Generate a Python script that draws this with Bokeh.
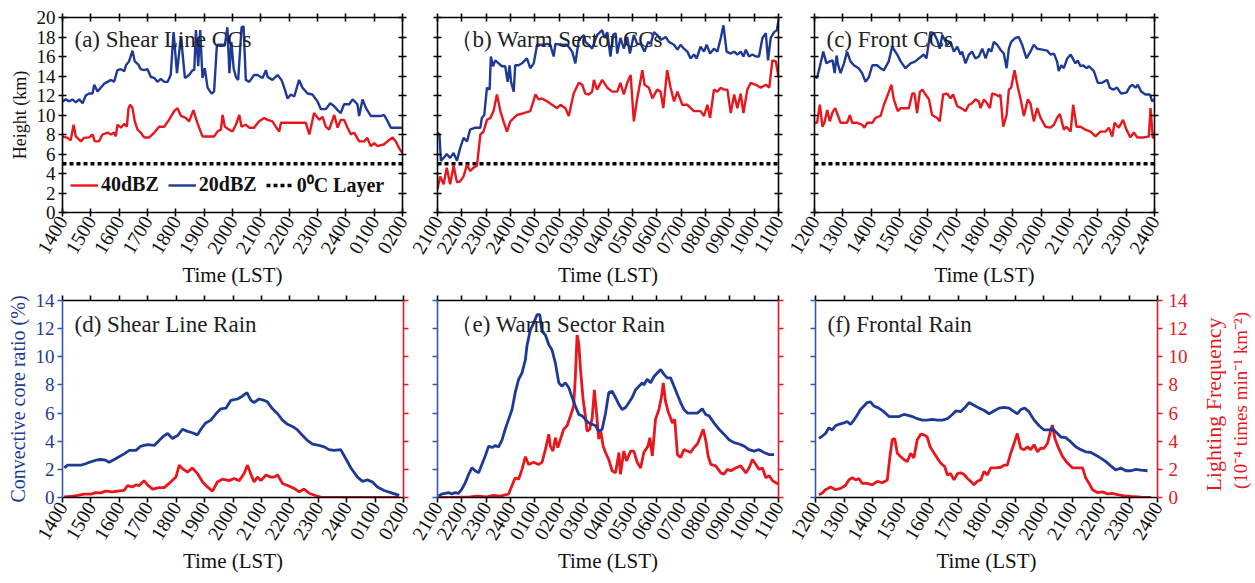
import math
from bokeh.plotting import figure
from bokeh.models import (LinearAxis, Range1d, FixedTicker, Label, Legend, LegendItem,
                          CustomJSTickFormatter)
from bokeh.layouts import column, row
from bokeh.embed import file_html
from bokeh.resources import INLINE

FONT = "Liberation Serif"
RED = "#e8161d"
BLUE = "#1e3a96"
AX_BLUE = "#3556b0"

# ---------------- tick labels (LST) ----------------
labels_a = ["1400", "1500", "1600", "1700", "1800", "1900", "2000", "2100", "2200", "2300", "2400", "0100", "0200"]
labels_b = ["2100", "2200", "2300", "2400", "0100", "0200", "0300", "0400", "0500", "0600", "0700", "0800", "0900", "1000", "1100"]
labels_c = ["1200", "1300", "1400", "1500", "1600", "1700", "1800", "1900", "2000", "2100", "2200", "2300", "2400"]

freezing_level = 5.0  # 0 C layer height (km)

# ---------------- (a) Shear line CCs : hours since 1400 ----------------
a20_t = [0, 0.12, 0.24, 0.35, 0.47, 0.59, 0.71, 0.82, 0.94, 1.06, 1.12, 1.24, 1.35, 1.47, 1.59, 1.71, 1.82, 1.94, 2.06, 2.18,
         2.24, 2.35, 2.47, 2.55, 2.67, 2.76, 2.88, 3.0, 3.12, 3.24, 3.35, 3.47, 3.59, 3.71, 3.82, 3.92, 4.04, 4.18, 4.32, 4.47,
         4.59, 4.65, 4.71, 4.79, 4.86, 4.94, 5.02, 5.12, 5.26, 5.35, 5.45, 5.59, 5.73, 5.82, 5.89, 5.96, 6.04, 6.12, 6.2, 6.32,
         6.39, 6.47, 6.59, 6.76, 6.88, 7.06, 7.18, 7.24, 7.41, 7.59, 7.73, 7.85, 7.94, 8.06, 8.18, 8.35, 8.47, 8.65, 8.82, 9.0,
         9.12, 9.29, 9.45, 9.59, 9.71, 9.82, 9.94, 10.12, 10.24, 10.41, 10.47, 10.59, 10.71, 10.88, 11.06, 11.24, 11.35, 11.47,
         11.59, 11.71, 12.0]
a20_h = [11.4, 11.6, 11.4, 11.6, 11.3, 11.6, 11.2, 12.0, 12.2, 12.2, 13.1, 12.4, 12.8, 13.2, 13.4, 13.6, 13.4, 14.6, 14.7, 14.5,
         15.1, 15.5, 16.6, 15.5, 15.2, 14.7, 14.6, 14.7, 13.9, 13.8, 13.4, 13.7, 13.4, 13.4, 14.1, 18.5, 14.3, 18.1, 13.8, 14.1,
         14.6, 14.6, 18.7, 15.0, 18.7, 13.8, 14.8, 12.8, 12.2, 12.4, 17.2, 17.2, 17.2, 19.0, 14.3, 17.5, 14.8, 13.9, 13.6, 19.0,
         19.1, 13.6, 13.4, 14.1, 14.1, 13.8, 14.6, 13.9, 13.6, 14.1, 13.6, 12.6, 11.7, 12.1, 11.9, 13.6, 12.8, 12.2, 12.1, 11.4,
         10.6, 10.6, 11.2, 10.9, 10.5, 10.2, 11.1, 11.1, 11.6, 11.1, 9.9, 11.6, 10.7, 9.9, 9.9, 9.9, 10.0, 9.4,
         8.7, 8.7, 8.7]
a40_t = [0, 0.18, 0.29, 0.39, 0.47, 0.65, 0.76, 0.94, 1.06, 1.14, 1.29, 1.41, 1.59, 1.71, 1.82, 1.88, 1.94, 2.06, 2.18, 2.27,
         2.33, 2.39, 2.47, 2.55, 2.65, 2.76, 2.88, 3.06, 3.24, 3.41, 3.59, 3.76, 3.94, 4.06, 4.18, 4.35, 4.47, 4.62, 4.76, 4.94,
         5.12, 5.35, 5.47, 5.59, 5.65, 5.73, 5.88, 6.0, 6.12, 6.24, 6.32, 6.47, 6.59, 6.76, 6.94, 7.12, 7.24, 7.41, 7.53, 7.65,
         7.71, 7.94, 8.18, 8.59, 8.71, 8.88, 9.06, 9.18, 9.29, 9.41, 9.59, 9.71, 9.82, 9.94, 10.06, 10.18, 10.29, 10.47, 10.65,
         10.76, 10.88, 11.0, 11.12, 11.35, 11.47, 11.65, 11.76, 11.88, 12.0]
a40_h = [7.8, 7.65, 7.4, 9.0, 7.8, 7.3, 7.65, 7.7, 8.0, 7.3, 7.3, 8.0, 8.2, 8.0, 8.2, 7.8, 9.0, 8.7, 9.1, 8.8,
         10.7, 11.05, 10.7, 9.35, 8.5, 8.2, 7.7, 7.7, 8.2, 8.8, 8.8, 9.5, 10.4, 10.7, 9.9, 9.7, 9.35, 10.5, 9.2, 7.8,
         7.8, 7.8, 8.3, 8.5, 10.0, 8.8, 8.5, 8.3, 9.0, 10.0, 8.8, 9.0, 8.7, 8.7, 9.35, 9.7, 9.5, 9.35, 8.8, 8.3,
         9.2, 9.2, 9.2, 9.2, 8.0, 10.2, 9.5, 9.8, 8.8, 8.5, 10.0, 8.7, 9.5, 9.5, 8.7, 8.0, 8.2, 7.3, 7.3,
         7.65, 6.8, 7.1, 6.8, 7.0, 7.3, 7.7, 7.3, 6.6, 6.1]

# ---------------- (b) Warm sector CCs : hours since 2100 ----------------
b20_t = [0, 0.08, 0.14, 0.25, 0.38, 0.52, 0.66, 0.8, 0.93, 1.07, 1.21, 1.34, 1.55, 1.76, 1.82, 1.92, 2.03, 2.14, 2.19, 2.28,
         2.37, 2.51, 2.65, 2.78, 2.88, 2.96, 3.02, 3.13, 3.19, 3.33, 3.47, 3.67, 3.81, 3.95, 4.09, 4.22, 4.36, 4.5, 4.63, 4.77,
         4.84, 5.05, 5.32, 5.53, 5.66, 5.8, 6.01, 6.07, 6.21, 6.35, 6.55, 6.76, 6.86, 6.97, 7.1, 7.21, 7.31, 7.38, 7.51, 7.65,
         7.79, 7.9, 8.06, 8.2, 8.34, 8.5, 8.65, 8.75, 8.89, 9.02, 9.16, 9.37, 9.5, 9.71, 9.85, 9.98, 10.12, 10.26, 10.39, 10.53,
         10.64, 10.8, 10.94, 11.05, 11.19, 11.35, 11.49, 11.63, 11.74, 11.87, 12.04, 12.18, 12.31, 12.45, 12.56, 12.66, 12.79,
         12.93, 13.07, 13.2, 13.34, 13.48, 13.57, 13.68, 13.82, 13.93, 14.0]
b20_h = [8.2, 8.0, 5.3, 5.6, 6.0, 5.6, 6.1, 5.3, 6.6, 7.65, 7.3, 8.5, 8.7, 8.7, 9.7, 10.0, 12.8, 12.6, 16.0, 15.0,
         15.6, 15.3, 15.0, 15.0, 13.4, 15.1, 13.4, 12.4, 15.1, 15.1, 15.3, 15.8, 14.8, 15.3, 17.2, 17.2, 17.2, 17.3, 17.2, 16.0,
         17.3, 17.2, 17.2, 16.5, 15.3, 17.7, 18.2, 17.5, 17.2, 16.8, 18.2, 18.7, 17.9, 18.5, 16.0, 18.2, 18.4, 16.3, 17.9, 16.8,
         18.0, 16.3, 18.2, 17.3, 17.3, 16.5, 17.5, 17.3, 18.5, 18.2, 17.7, 18.0, 17.5, 17.2, 16.7, 17.2, 16.8, 16.5, 15.8, 16.2,
         15.8, 17.0, 16.5, 17.2, 16.3, 16.8, 16.5, 17.9, 19.2, 16.5, 16.3, 16.5, 16.2, 16.5, 16.0, 16.7, 16.0,
         16.2, 16.0, 16.0, 17.9, 18.4, 15.6, 17.9, 18.5, 18.7, 19.7]
b40_t = [0, 0.11, 0.25, 0.38, 0.52, 0.66, 0.8, 0.93, 1.07, 1.21, 1.34, 1.48, 1.62, 1.76, 1.89, 2.03, 2.17, 2.3, 2.44, 2.58,
         2.71, 2.85, 2.99, 3.26, 3.54, 3.81, 4.02, 4.15, 4.29, 4.5, 4.7, 4.91, 5.05, 5.25, 5.39, 5.59, 5.8, 5.94, 6.07, 6.21,
         6.35, 6.42, 6.55, 6.76, 6.97, 7.17, 7.38, 7.51, 7.65, 7.79, 7.93, 8.06, 8.2, 8.41, 8.5, 8.68, 8.82, 9.02, 9.16, 9.27,
         9.43, 9.57, 9.71, 9.85, 10.05, 10.26, 10.53, 10.8, 10.94, 11.08, 11.19, 11.35, 11.49, 11.63, 11.76, 11.9, 12.04, 12.18,
         12.31, 12.45, 12.56, 12.72, 12.86, 13.07, 13.27, 13.48, 13.62, 13.75, 13.89, 14.0]
b40_h = [2.4, 3.7, 2.9, 4.6, 2.9, 4.8, 3.1, 3.2, 3.7, 4.9, 4.25, 4.6, 4.8, 8.0, 8.3, 9.5, 9.7, 10.4, 12.1, 10.4,
         9.35, 8.3, 9.35, 10.0, 10.2, 10.4, 12.1, 11.6, 11.7, 11.4, 11.05, 10.7, 11.05, 10.7, 9.9, 12.2, 13.3, 13.1, 12.2, 12.1,
         12.4, 13.6, 12.6, 13.6, 12.8, 12.4, 12.4, 13.3, 12.1, 13.3, 14.1, 9.35, 11.7, 14.6, 13.1, 12.8, 11.7, 12.6, 12.4, 10.7,
         14.6, 12.8, 11.4, 12.4, 11.05, 11.05, 10.4, 10.4, 9.9, 11.05, 9.7, 12.6, 12.4, 12.8, 12.6, 12.6, 10.2, 12.1,
         10.7, 12.2, 10.2, 12.6, 13.3, 13.1, 12.8, 13.1, 12.8, 15.6, 15.5, 13.9]

# ---------------- (c) Front CCs : hours since 1200 ----------------
c20_t = [0, 0.09, 0.19, 0.31, 0.42, 0.54, 0.64, 0.71, 0.78, 0.82, 0.92, 1.04, 1.15, 1.27, 1.39, 1.56, 1.68, 1.8, 1.92, 2.04,
         2.21, 2.33, 2.45, 2.62, 2.74, 2.92, 3.04, 3.21, 3.39, 3.56, 3.68, 3.86, 3.95, 4.09, 4.21, 4.33, 4.42, 4.51, 4.68, 4.8,
         4.92, 5.04, 5.15, 5.21, 5.33, 5.45, 5.56, 5.68, 5.8, 5.92, 6.04, 6.15, 6.24, 6.33, 6.45, 6.56, 6.68, 6.78, 6.86, 6.94,
         7.09, 7.21, 7.33, 7.48, 7.62, 7.74, 7.86, 8.04, 8.21, 8.33, 8.45, 8.56, 8.62, 8.71, 8.8, 8.92, 9.04, 9.15, 9.21, 9.29,
         9.39, 9.48, 9.6, 9.69, 9.86, 10.0, 10.15, 10.33, 10.42, 10.54, 10.68, 10.82, 11.01, 11.13, 11.22, 11.33, 11.41, 11.53,
         11.68, 11.84, 11.92, 12.0]
c20_h = [13.95, 13.8, 15.0, 16.5, 15.3, 15.5, 15.6, 14.3, 16.1, 15.3, 14.3, 15.3, 16.5, 15.5, 15.1, 14.8, 14.3, 13.4, 13.9, 15.1,
         15.1, 14.8, 14.6, 15.5, 17.0, 16.2, 15.5, 14.8, 15.3, 15.5, 15.8, 16.2, 15.8, 18.5, 18.4, 17.7, 16.8, 18.2, 17.2, 17.5,
         16.5, 17.0, 16.2, 16.5, 15.3, 16.2, 16.5, 15.8, 16.0, 16.8, 15.8, 16.8, 16.5, 17.5, 17.2, 16.7, 16.3, 14.8, 16.8, 17.5,
         17.9, 18.0, 17.2, 15.8, 16.5, 17.2, 16.8, 16.7, 16.6, 16.2, 16.3, 15.5, 14.5, 15.1, 14.8, 15.8, 16.2, 15.6, 15.3, 15.6,
         15.0, 15.1, 14.8, 15.0, 14.5, 13.3, 13.3, 13.6, 12.8, 12.6, 12.8, 12.2, 12.3, 12.9, 13.1, 12.8, 13.1, 12.4,
         12.1, 12.1, 11.4, 11.6]
c40_t = [0, 0.09, 0.19, 0.28, 0.35, 0.45, 0.54, 0.64, 0.73, 0.82, 0.92, 1.04, 1.15, 1.25, 1.33, 1.51, 1.68, 1.76, 1.86, 2.04,
         2.15, 2.33, 2.45, 2.59, 2.71, 2.8, 2.94, 3.04, 3.21, 3.33, 3.45, 3.53, 3.62, 3.72, 3.81, 3.92, 4.04, 4.15, 4.33, 4.42,
         4.54, 4.68, 4.8, 4.89, 5.04, 5.18, 5.33, 5.45, 5.56, 5.68, 5.8, 5.86, 5.98, 6.09, 6.19, 6.27, 6.39, 6.51, 6.56, 6.66,
         6.78, 6.86, 6.94, 7.06, 7.18, 7.27, 7.39, 7.53, 7.62, 7.74, 7.86, 7.98, 8.15, 8.33, 8.45, 8.56, 8.66, 8.8, 8.89, 9.04,
         9.13, 9.25, 9.39, 9.56, 9.74, 9.92, 10.09, 10.27, 10.39, 10.51, 10.59, 10.74, 10.89, 11.01, 11.15, 11.27, 11.39, 11.62,
         11.8, 11.86, 11.94, 12.0]
c40_h = [9.2, 9.2, 11.05, 8.8, 9.2, 10.5, 9.35, 10.3, 10.7, 10.0, 9.2, 9.2, 9.2, 10.0, 9.2, 9.2, 9.0, 8.7, 9.2, 9.2,
         9.7, 9.9, 11.05, 12.1, 13.1, 11.6, 10.4, 10.7, 10.7, 10.7, 12.2, 12.2, 10.2, 12.4, 12.6, 12.1, 11.6, 10.0, 9.7, 9.35,
         12.1, 12.2, 11.7, 12.1, 10.9, 10.7, 10.4, 11.05, 11.2, 11.6, 11.4, 10.7, 11.6, 11.2, 10.7, 12.2, 12.1, 11.9, 12.1, 8.8,
         10.0, 12.6, 12.8, 14.6, 12.8, 11.7, 9.9, 11.6, 11.2, 9.35, 10.7, 9.7, 8.8, 8.7, 9.0, 9.7, 10.1, 8.5, 8.8, 8.3,
         11.05, 8.8, 8.8, 8.5, 8.3, 7.8, 8.3, 8.3, 8.7, 7.8, 9.2, 8.7, 9.5, 8.5, 7.7, 8.2, 7.7, 7.7,
         7.8, 10.7, 7.65, 7.7]

# ---------------- (d) Shear line rain ----------------
d_cc_t = [0.06, 0.18, 0.35, 0.65, 0.82, 0.94, 1.17, 1.35, 1.52, 1.64, 1.82, 1.99, 2.17, 2.35, 2.58, 2.76, 2.99, 3.23, 3.4, 3.58,
          3.7, 3.87, 4.05, 4.22, 4.4, 4.57, 4.75, 4.87, 5.04, 5.22, 5.4, 5.57, 5.75, 5.92, 6.16, 6.33, 6.49, 6.63, 6.74, 6.92,
          7.1, 7.21, 7.39, 7.57, 7.74, 7.92, 8.09, 8.27, 8.45, 8.62, 8.8, 9.03, 9.21, 9.38, 9.56, 9.79, 9.97, 10.15, 10.38, 10.56,
          10.73, 10.91, 11.08, 11.32, 11.55, 11.85]
d_cc_v = [2.1, 2.3, 2.3, 2.3, 2.4, 2.5, 2.65, 2.7, 2.65, 2.5, 2.7, 2.9, 3.1, 3.35, 3.35, 3.65, 3.75, 3.7, 4.05, 4.4,
          4.55, 4.2, 4.4, 4.85, 4.7, 4.6, 4.45, 4.85, 5.3, 5.5, 5.95, 6.3, 6.35, 6.9, 7.0, 7.2, 7.45, 6.9, 6.75, 7.0,
          6.9, 6.8, 6.3, 5.95, 5.5, 5.2, 5.05, 4.8, 4.4, 4.05, 3.8, 3.7, 3.6, 3.4, 3.35, 3.4, 2.75, 2.1, 1.45, 1.15,
          1.25, 1.1, 0.75, 0.5, 0.35, 0.15]
d_lf_t = [0.06, 0.29, 0.53, 0.76, 1.0, 1.17, 1.35, 1.52, 1.76, 1.94, 2.17, 2.29, 2.46, 2.58, 2.7, 2.87, 2.99, 3.17, 3.4, 3.58,
          3.75, 3.99, 4.11, 4.22, 4.4, 4.57, 4.75, 4.93, 5.1, 5.28, 5.45, 5.63, 5.87, 6.04, 6.22, 6.39, 6.51, 6.63, 6.74, 6.86,
          6.98, 7.16, 7.33, 7.45, 7.57, 7.74, 7.92, 8.15, 8.33, 8.5, 8.68, 8.92, 9.09, 9.56, 11.85]
d_lf_v = [0.05, 0.07, 0.15, 0.24, 0.24, 0.35, 0.33, 0.45, 0.4, 0.45, 0.5, 0.85, 0.75, 0.9, 0.85, 1.2, 0.9, 0.6, 0.7, 0.7,
          1.0, 1.45, 2.3, 2.05, 1.8, 2.1, 1.7, 1.1, 0.75, 0.45, 1.1, 1.3, 1.2, 1.35, 1.2, 1.7, 2.3, 1.65, 1.1, 1.45,
          1.2, 1.6, 1.45, 1.45, 1.6, 1.0, 0.85, 0.65, 0.4, 0.6, 0.3, 0.12, 0.02, 0.0, 0.0]

# ---------------- (e) Warm sector rain ----------------
e_cc_t = [0.04, 0.18, 0.32, 0.45, 0.59, 0.73, 0.86, 1.0, 1.14, 1.28, 1.41, 1.55, 1.69, 1.82, 1.96, 2.1, 2.24, 2.37, 2.51, 2.65,
          2.78, 2.92, 3.06, 3.19, 3.33, 3.47, 3.61, 3.67, 3.81, 3.95, 4.09, 4.2, 4.29, 4.43, 4.57, 4.7, 4.84, 4.98, 5.11, 5.25,
          5.39, 5.53, 5.66, 5.8, 5.94, 6.07, 6.21, 6.35, 6.49, 6.62, 6.76, 6.9, 7.03, 7.17, 7.31, 7.45, 7.58, 7.72, 7.86, 7.99,
          8.13, 8.27, 8.41, 8.47, 8.61, 8.75, 8.89, 9.02, 9.16, 9.3, 9.43, 9.57, 9.71, 9.85, 9.98, 10.12, 10.26, 10.46, 10.67,
          10.87, 11.01, 11.15, 11.35, 11.56, 11.76, 11.97, 12.18, 12.38, 12.59, 12.79, 13.0, 13.2, 13.41, 13.62, 13.82]
e_cc_v = [0.1, 0.25, 0.3, 0.35, 0.25, 0.35, 0.3, 0.6, 1.05, 1.65, 2.1, 1.9, 1.75, 2.35, 2.95, 3.65, 3.55, 3.7, 3.6, 4.1,
          4.85, 5.55, 6.25, 7.45, 8.4, 8.85, 9.8, 10.75, 11.9, 12.4, 13.0, 13.0, 11.8, 11.55, 10.85, 10.5, 9.55, 8.15, 7.9, 8.15,
          7.8, 7.1, 6.5, 5.9, 5.8, 5.55, 5.3, 5.2, 5.1, 4.7, 4.85, 6.0, 7.45, 7.55, 7.1, 6.6, 6.25, 6.4, 6.75, 7.1,
          7.65, 7.9, 8.15, 8.0, 8.4, 8.15, 8.6, 8.85, 9.1, 8.75, 8.5, 8.5, 7.9, 7.3, 6.75, 6.25, 6.0, 6.0, 6.0,
          6.3, 5.9, 5.8, 5.3, 4.85, 4.5, 4.1, 3.9, 3.8, 3.65, 3.4, 3.3, 3.4, 3.2, 3.05, 3.05]
e_lf_t = [0.04, 0.66, 1.34, 1.62, 2.03, 2.3, 2.58, 2.92, 3.06, 3.19, 3.33, 3.47, 3.61, 3.74, 3.95, 4.15, 4.29, 4.43, 4.57, 4.63,
          4.74, 4.84, 4.94, 5.05, 5.18, 5.32, 5.46, 5.59, 5.66, 5.73, 5.8, 5.87, 5.98, 6.07, 6.14, 6.25, 6.35, 6.44, 6.53, 6.62,
          6.69, 6.8, 6.9, 7.03, 7.17, 7.31, 7.45, 7.51, 7.65, 7.76, 7.93, 8.06, 8.2, 8.34, 8.47, 8.64, 8.72, 8.82, 8.95, 9.09,
          9.19, 9.27, 9.36, 9.46, 9.57, 9.64, 9.74, 9.85, 9.98, 10.12, 10.26, 10.39, 10.53, 10.67, 10.8, 10.91, 11.02, 11.11,
          11.22, 11.42, 11.63, 11.76, 11.9, 12.04, 12.24, 12.45, 12.66, 12.79, 12.93, 13.07, 13.2, 13.34, 13.48, 13.62, 13.75,
          13.89, 14.0]
e_lf_v = [0.0, 0.0, 0.05, 0.1, 0.05, 0.15, 0.1, 0.25, 0.85, 1.4, 1.3, 2.0, 2.9, 2.35, 2.5, 2.35, 2.5, 3.4, 4.5, 3.65,
          3.3, 4.25, 3.55, 4.15, 4.85, 5.1, 5.8, 6.5, 8.6, 11.55, 10.95, 9.1, 6.95, 5.8, 4.7, 4.85, 5.65, 7.65, 6.0, 4.15,
          4.85, 3.65, 3.2, 2.7, 1.9, 1.75, 3.2, 1.65, 3.3, 2.6, 3.3, 3.3, 2.5, 2.1, 3.2, 3.65, 4.25, 2.95, 5.55, 6.25,
          7.1, 8.15, 6.85, 6.15, 5.65, 5.3, 5.55, 3.05, 2.85, 3.4, 3.3, 3.2, 3.55, 3.8, 4.35, 4.85, 4.0, 2.95,
          2.35, 2.25, 1.75, 1.65, 2.0, 1.9, 2.1, 2.25, 1.75, 2.1, 2.7, 2.35, 2.0, 2.1, 1.4, 1.55, 1.2,
          1.05, 0.95]

# ---------------- (f) Frontal rain ----------------
f_cc_t = [0.12, 0.23, 0.35, 0.47, 0.59, 0.7, 0.82, 1.0, 1.11, 1.23, 1.35, 1.46, 1.58, 1.7, 1.81, 1.93, 2.05, 2.22, 2.4, 2.58,
          2.75, 2.93, 3.1, 3.22, 3.4, 3.57, 3.75, 3.92, 4.1, 4.27, 4.45, 4.63, 4.8, 4.92, 5.09, 5.27, 5.39, 5.56, 5.74, 5.91,
          6.09, 6.26, 6.44, 6.62, 6.79, 6.97, 7.08, 7.2, 7.34, 7.49, 7.67, 7.85, 8.02, 8.2, 8.31, 8.49, 8.61, 8.78, 8.96, 9.13,
          9.31, 9.48, 9.66, 9.84, 10.01, 10.19, 10.36, 10.54, 10.71, 10.89, 11.07, 11.24, 11.42, 11.65]
f_cc_v = [4.2, 4.35, 4.55, 4.95, 4.8, 5.1, 5.2, 5.3, 5.4, 5.2, 5.5, 5.85, 6.25, 6.5, 6.75, 6.8, 6.5, 6.35, 6.1, 5.75,
          5.75, 5.75, 5.9, 5.85, 5.75, 5.6, 5.5, 5.5, 5.55, 5.5, 5.5, 5.6, 5.9, 6.15, 6.1, 6.45, 6.75, 6.55, 6.35, 6.2,
          5.95, 6.15, 6.35, 6.4, 6.35, 6.1, 5.95, 6.25, 6.35, 6.1, 5.5, 5.1, 4.8, 4.8, 4.9, 4.55, 4.3, 4.25, 3.95, 3.6,
          3.4, 3.25, 3.2, 3.0, 2.8, 2.55, 2.25, 1.95, 2.1, 1.9, 1.9, 2.0, 1.95, 1.9]
f_lf_t = [0.12, 0.23, 0.35, 0.53, 0.7, 0.88, 1.05, 1.17, 1.29, 1.41, 1.52, 1.64, 1.81, 1.99, 2.17, 2.34, 2.52, 2.61, 2.69, 2.78,
          2.87, 2.99, 3.1, 3.22, 3.34, 3.45, 3.57, 3.69, 3.81, 3.92, 4.02, 4.13, 4.27, 4.39, 4.53, 4.63, 4.74, 4.86, 4.98, 5.09,
          5.21, 5.33, 5.44, 5.56, 5.68, 5.8, 5.91, 6.03, 6.15, 6.32, 6.5, 6.62, 6.73, 6.85, 6.97, 7.08, 7.2, 7.32, 7.44, 7.55,
          7.67, 7.79, 7.9, 8.02, 8.14, 8.26, 8.31, 8.4, 8.51, 8.67, 8.84, 9.02, 9.19, 9.37, 9.48, 9.6, 9.72, 9.89, 10.07, 10.25,
          10.42, 10.6, 10.83, 11.07, 11.42, 11.77]
f_lf_v = [0.2, 0.3, 0.55, 0.75, 0.55, 0.65, 0.85, 1.25, 1.4, 1.25, 1.35, 1.0, 1.0, 0.9, 1.15, 1.05, 1.25, 2.9, 4.1, 4.2,
          3.15, 2.9, 2.7, 2.55, 3.15, 2.8, 4.1, 4.5, 4.45, 4.3, 3.6, 3.25, 2.8, 2.45, 2.2, 1.6, 1.7, 1.25, 1.7, 1.75,
          1.65, 1.35, 1.15, 0.9, 1.15, 1.25, 1.85, 1.6, 2.1, 2.1, 2.15, 2.3, 2.3, 3.15, 3.85, 4.55, 3.5, 3.4, 3.6, 3.4,
          3.75, 3.25, 3.5, 3.5, 3.85, 4.8, 5.15, 4.2, 3.6, 2.9, 2.45, 2.1, 2.1, 2.1, 1.4, 1.0, 0.55, 0.35, 0.4, 0.25,
          0.3, 0.2, 0.12, 0.07, 0.02, 0.0]


def blank_formatter():
    return CustomJSTickFormatter(code="return ''")


def style_axis(ax, color, tin, tout, show, label_color=None, size="18px"):
    ax.axis_line_color = color
    ax.axis_line_width = 1.6
    ax.major_tick_line_color = color
    ax.major_tick_line_width = 1.6
    ax.major_tick_in = tin
    ax.major_tick_out = tout
    ax.minor_tick_line_color = None
    ax.major_label_text_font = FONT
    ax.major_label_text_font_size = size
    ax.major_label_text_color = label_color or color
    ax.axis_label_text_font = FONT
    ax.axis_label_text_font_style = "normal"
    if not show:
        ax.formatter = blank_formatter()
        ax.major_label_standoff = 0
        ax.major_label_text_font_size = "1px"


def make_fig(w, h, L, R, T, B, nh, ymax, labels, top_row, margin):
    p = figure(width=w, height=h, x_range=Range1d(0, nh), y_range=Range1d(0, ymax),
               output_backend="svg", toolbar_location=None,
               min_border_left=L, min_border_right=R, min_border_top=T, min_border_bottom=B)
    p.margin = margin
    p.grid.visible = False
    p.background_fill_color = "white"
    p.border_fill_alpha = 0
    p.outline_line_color = None
    xt = FixedTicker(ticks=list(range(nh + 1)))
    yt = FixedTicker(ticks=list(range(0, ymax + 1, 2)))
    tin, tout = (4, 4) if top_row else (0, 5)
    xa = p.xaxis[0]
    xa.ticker = xt
    style_axis(xa, "black", tin, tout, True, "#111", "20px")
    xa.major_label_overrides = {i: lab for i, lab in enumerate(labels)}
    xa.major_label_orientation = 1.03
    xa.major_label_standoff = 1
    xa.axis_label = "Time (LST)"
    xa.axis_label_text_font_size = "21px"
    xa.axis_label_text_color = "#111"
    xa.axis_label_standoff = 1
    ta = LinearAxis(ticker=xt)
    style_axis(ta, "black", tin, tout, False)
    p.add_layout(ta, "above")
    p.yaxis[0].ticker = yt
    return p, yt


def add_title(p, text, fh, dx, dy):
    p.add_layout(Label(x=dx, y=fh - dy, x_units="screen", y_units="screen", text=text,
                       text_font=FONT, text_font_size="23px", text_color="#222",
                       text_baseline="middle", text_align="left"))


# ---------------- top row ----------------
top_specs = [
    (417, 62, 15, 0, 12, labels_a, "(a) Shear Line CCs", a20_t, a20_h, a40_t, a40_h, True),
    (396, 40, 15, -20, 14, labels_b, "\uff08b) Warm Sector CCs", b20_t, b20_h, b40_t, b40_h, False),
    (481, 40, 101, -19, 12, labels_c, "(c) Front CCs", c20_t, c20_h, c40_t, c40_h, False),
]
top_figs = []
for (w, L, R, ml, nh, labs, title, t20, h20, t40, h40, first) in top_specs:
    p, yt = make_fig(w, 292, L, R, 17, 80, nh, 20, labs, True, (0, 0, 0, ml))
    ya = p.yaxis[0]
    style_axis(ya, "black", 4, 4, first, "#111", "19px")
    if first:
        ya.axis_label = "Height (km)"
        ya.axis_label_text_font_size = "18px"
        ya.axis_label_text_color = "#111"
        ya.axis_label_standoff = 4
        ya.major_label_standoff = 3
    ra = LinearAxis(ticker=yt)
    style_axis(ra, "black", 4, 4, False)
    p.add_layout(ra, "right")
    r0 = p.line([0, nh], [freezing_level, freezing_level], line_color="black", line_width=3.5,
                line_dash="4 3")
    r40 = p.line(t40, h40, line_color=RED, line_width=2.4)
    r20 = p.line(t20, h20, line_color=BLUE, line_width=2.4)
    add_title(p, title, 195, 12, 22)
    if first:
        leg = Legend(items=[LegendItem(label="40dBZ", renderers=[r40]),
                            LegendItem(label="20dBZ", renderers=[r20]),
                            LegendItem(label="0\u2070C Layer", renderers=[r0])],
                     orientation="horizontal", location=(8, 14),
                     border_line_color=None, background_fill_alpha=0,
                     label_text_font=FONT, label_text_font_style="bold",
                     label_text_font_size="20px", label_text_color="#111",
                     glyph_width=28, glyph_height=20, label_standoff=3,
                     spacing=9, padding=0, margin=0)
        p.add_layout(leg)
    top_figs.append(p)

# ---------------- bottom row ----------------
bot_specs = [
    (418, 62, 15, 0, 12, labels_a, "(d) Shear Line Rain", d_cc_t, d_cc_v, d_lf_t, d_lf_v, "left"),
    (396, 40, 15, -21, 14, labels_b, "\uff08e) Warm Sector Rain", e_cc_t, e_cc_v, e_lf_t, e_lf_v, "none"),
    (480, 40, 98, -18, 12, labels_c, "(f) Frontal Rain", f_cc_t, f_cc_v, f_lf_t, f_lf_v, "right"),
]
bot_figs = []
for (w, L, R, ml, nh, labs, title, ct, cv, lt, lv, which) in bot_specs:
    p, yt = make_fig(w, 303, L, R, 20, 86, nh, 14, labs, False, (-12, 0, 0, ml))
    p.extra_y_ranges = {"lf": Range1d(0, 14)}
    ya = p.yaxis[0]
    style_axis(ya, AX_BLUE, 0, 5, which == "left", BLUE, "19px")
    if which == "left":
        ya.axis_label = "Convective core ratio (%)"
        ya.axis_label_text_font_size = "20px"
        ya.axis_label_text_color = BLUE
        ya.axis_label_standoff = 4
        ya.major_label_standoff = 3
    ra = LinearAxis(ticker=yt, y_range_name="lf")
    style_axis(ra, RED, 0, 5, which == "right", RED, "19px")
    if which == "right":
        ra.major_label_standoff = 6
    p.add_layout(ra, "right")
    p.line(lt, lv, line_color=RED, line_width=2.8, y_range_name="lf")
    p.line(ct, cv, line_color=BLUE, line_width=2.8)
    add_title(p, title, 197, 12, 24)
    bot_figs.append(p)

# right-hand title of the lightning axis: a transparent overlay strip whose
# frame lines up with panel (f)'s frame (same vertical span)
g = figure(width=60, height=303, x_range=Range1d(0, 1), y_range=Range1d(0, 1),
           output_backend="svg", toolbar_location=None, x_axis_type=None, y_axis_type=None,
           min_border_left=0, min_border_right=0, min_border_top=0, min_border_bottom=0)
g.margin = (-12, 0, 0, -60)
g.grid.visible = False
g.outline_line_color = None
g.background_fill_alpha = 0
g.border_fill_alpha = 0
g.add_layout(Label(x=18, y=93, x_units="screen", y_units="screen",
                   text="Lighting Frequency", angle=math.pi / 2,
                   text_font=FONT, text_font_size="22px", text_color=RED,
                   text_align="center", text_baseline="middle"))
g.add_layout(Label(x=45, y=97, x_units="screen", y_units="screen",
                   text="(10\u207b\u2074 times min\u207b\u00b9 km\u207b\u00b2)", angle=math.pi / 2,
                   text_font=FONT, text_font_size="19px", text_color=RED,
                   text_align="center", text_baseline="middle"))
bot_figs.append(g)

layout = column(row(*top_figs, spacing=0), row(*bot_figs, spacing=0), spacing=0)
open("out.html", "w").write(file_html(layout, INLINE))
